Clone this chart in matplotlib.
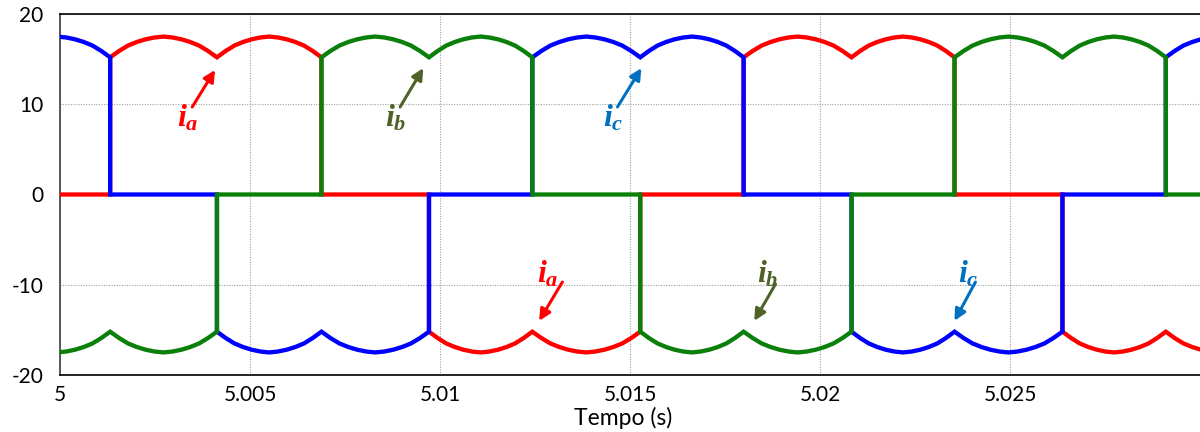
import numpy as np
import matplotlib.pyplot as plt

plt.rcParams['font.family'] = ['Lato', 'DejaVu Sans']
plt.rcParams['axes.unicode_minus'] = False
plt.rcParams['mathtext.fontset'] = 'custom'
plt.rcParams['mathtext.it'] = 'Liberation Serif:italic:bold'
plt.rcParams['mathtext.rm'] = 'Liberation Serif:bold'

# commutation instants (s): each interval between two of them is one pulse
pulse_edges = [4.99854, 5.00132, 5.00413, 5.00688, 5.00971, 5.01243, 5.01527,
               5.01799, 5.02083, 5.02354, 5.02638, 5.02910, 5.03188]
# phase carrying the positive / negative dc current in each pulse
pos_phase = ['c', 'a', 'a', 'b', 'b', 'c', 'c', 'a', 'a', 'b', 'b', 'c']
neg_phase = ['b', 'b', 'c', 'c', 'a', 'a', 'b', 'b', 'c', 'c', 'a', 'a']
# current over one pulse, cusp to cusp (A)
hump = [15.2, 15.9, 16.5, 16.9, 17.2, 17.4, 17.5, 17.4, 17.2, 16.9, 16.5, 15.9, 15.2]

phase_colors = {'a': '#ff0000', 'b': '#0a800a', 'c': '#0000ff'}
label_colors = {'a': '#ff0000', 'b': '#4f6228', 'c': '#0070c0'}

hump = np.array(hump)
series = {p: ([], []) for p in 'abc'}
for k in range(len(pos_phase)):
    t = np.linspace(pulse_edges[k], pulse_edges[k + 1], len(hump))
    for p in 'abc':
        if p == pos_phase[k]:
            v = hump
        elif p == neg_phase[k]:
            v = -hump
        else:
            v = np.zeros_like(hump)
        series[p][0].extend(t)
        series[p][1].extend(v)

fig = plt.figure(figsize=(12, 4.32), dpi=100)
ax = fig.add_axes([60 / 1200, 57 / 432, 1140 / 1200, 361 / 432])

for p in ['a', 'c', 'b']:
    ax.plot(series[p][0], series[p][1], color=phase_colors[p], lw=3.1,
            solid_joinstyle='miter', zorder=3)

ax.set_xlim(5.0, 5.03)
ax.set_ylim(-20, 20)
ax.set_xticks([5.0, 5.005, 5.01, 5.015, 5.02, 5.025, 5.03])
ax.set_xticklabels(['5', '5.005', '5.01', '5.015', '5.02', '5.025', ''])
ax.set_yticks([-20, -10, 0, 10, 20])
ax.tick_params(length=0, labelsize=15, labelcolor='black')
ax.tick_params(axis='y', pad=12)
ax.tick_params(axis='x', pad=7)
ax.grid(True, color='#a0a0a0', linestyle=(0, (1, 1.3)), lw=0.8)
ax.set_axisbelow(True)
ax.set_xlabel('Tempo (s)', fontsize=16.5)
ax.xaxis.set_label_coords(0.494, -0.088)

for side in ['top', 'bottom']:
    ax.spines[side].set_color('black')
    ax.spines[side].set_linewidth(1.2)
ax.spines['left'].set_color('#404040')
ax.spines['left'].set_linewidth(1.2)
ax.spines['right'].set_visible(False)

# phase labels with arrows pointing at the current cusps
labels = [
    ('a', (5.00308, 7.48), (5.00348, 9.70), (5.00408, 13.8)),
    ('b', (5.00856, 7.48), (5.00895, 9.70), (5.00956, 14.0)),
    ('c', (5.01430, 7.48), (5.01467, 9.70), (5.01530, 14.0)),
    ('a', (5.01256, -9.70), (5.01322, -9.70), (5.01261, -14.0)),
    ('b', (5.01835, -9.70), (5.01883, -9.92), (5.01827, -14.0)),
    ('c', (5.02362, -9.70), (5.02409, -9.70), (5.02354, -14.0)),
]
for p, txt_xy, tail, head in labels:
    ax.text(txt_xy[0], txt_xy[1], f'$i_{p}$', color=label_colors[p],
            fontsize=23, ha='left', va='baseline', zorder=5)
    ax.annotate('', xy=head, xytext=tail,
                arrowprops=dict(arrowstyle='-|>', color=label_colors[p],
                                lw=2.2, mutation_scale=17, shrinkA=0, shrinkB=0),
                zorder=5)

fig.savefig('out.png', dpi=100)
